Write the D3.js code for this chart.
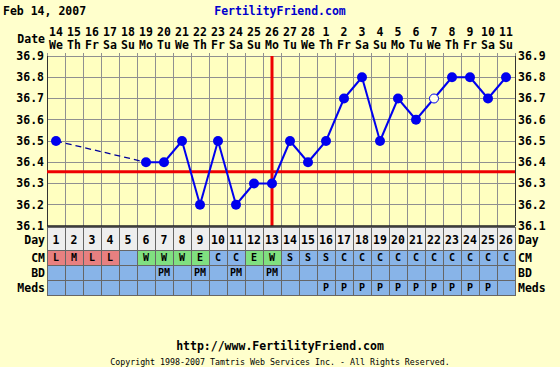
<!DOCTYPE html>
<html><head><meta charset="utf-8">
<script src="https://cdn.jsdelivr.net/npm/d3@7"></script>
<style>
html,body{margin:0;padding:0;background:#ffffcc;}
svg{display:block;}
text{font-family:"DejaVu Sans Mono",monospace;font-weight:bold;}
</style></head>
<body>
<script>
const cycleDays = d3.range(1, 27);
const dateNums = ["14","15","16","17","18","19","20","21","22","23","24","25","26","27","28","1","2","3","4","5","6","7","8","9","10","11"];
const weekdays = ["We","Th","Fr","Sa","Su","Mo","Tu","We","Th","Fr","Sa","Su","Mo","Tu","We","Th","Fr","Sa","Su","Mo","Tu","We","Th","Fr","Sa","Su"];
const temps = [36.5,null,null,null,null,36.4,36.4,36.5,36.2,36.5,36.2,36.3,36.3,36.5,36.4,36.5,36.7,36.8,36.5,36.7,36.6,36.7,36.8,36.8,36.7,36.8];
const openPoints = [22];
const cm = ["L","M","L","L","","W","W","W","E","C","C","E","W","S","S","S","C","C","C","C","C","C","C","C","C","C"];
const bd = ["","","","","","","PM","","PM","","PM","","PM","","","","","","","","","","","","",""];
const meds = ["","","","","","","","","","","","","","","","P","P","P","P","P","P","P","P","P","P",""];
const tempTicks = [36.1,36.2,36.3,36.4,36.5,36.6,36.7,36.8,36.9];
const coverline = 36.355;
const ovulationDay = 13;

const W = 560, H = 367;
const pL = 47, pR = 515, pT = 56, pB = 226;
const svg = d3.select("body").append("svg").attr("width", W).attr("height", H);

const x = d3.scaleBand().domain(cycleDays).range([pL, pR]).padding(0);
const y = d3.scaleLinear().domain([36.1, 36.9]).range([pB, pT]);
const cx = d => x(d) + x.bandwidth() / 2;

// header
svg.append("text").attr("x", 3).attr("y", 15).attr("font-size", 11.5).attr("fill", "#000").text("Feb 14, 2007");
svg.append("text").attr("x", 280).attr("y", 15).attr("font-size", 11.5).attr("fill", "#0000cc").attr("text-anchor", "middle").text("FertilityFriend.com");
svg.append("text").attr("x", 45).attr("y", 43).attr("font-size", 11.5).attr("text-anchor", "end").text("Date");
svg.selectAll(".dn").data(cycleDays).enter().append("text")
  .attr("x", d => cx(d)).attr("y", 36).attr("font-size", 11.5).attr("text-anchor", "middle").text((d, i) => dateNums[i]);
svg.selectAll(".wd").data(cycleDays).enter().append("text")
  .attr("x", d => cx(d)).attr("y", 48.5).attr("font-size", 11.5).attr("text-anchor", "middle").text((d, i) => weekdays[i]);

// plot grid
const g = svg.append("g");
g.append("rect").attr("x", pL).attr("y", pT).attr("width", pR - pL).attr("height", pB - pT).attr("fill", "#ffffc0");
g.selectAll(".vg").data(d3.range(0, 27)).enter().append("line")
  .attr("x1", i => pL + i * x.bandwidth()).attr("x2", i => pL + i * x.bandwidth())
  .attr("y1", pT - 3).attr("y2", pB).attr("stroke", "#909090").attr("stroke-width", 1).attr("shape-rendering", "crispEdges");
g.selectAll(".hg").data(tempTicks).enter().append("line")
  .attr("x1", pL).attr("x2", pR).attr("y1", d => y(d)).attr("y2", d => y(d))
  .attr("stroke", "#909090").attr("stroke-width", 1).attr("shape-rendering", "crispEdges");
g.append("line").attr("x1", pL).attr("x2", pL).attr("y1", pT).attr("y2", pB).attr("stroke", "#333").attr("shape-rendering", "crispEdges");
g.append("line").attr("x1", pR).attr("x2", pR).attr("y1", pT).attr("y2", pB).attr("stroke", "#333").attr("shape-rendering", "crispEdges");

// axes labels
const axL = d3.axisLeft(y).tickValues(tempTicks).tickFormat(d3.format(".1f")).tickSize(0).tickPadding(3);
const axR = d3.axisRight(y).tickValues(tempTicks).tickFormat(d3.format(".1f")).tickSize(0).tickPadding(3);
const gl = svg.append("g").attr("transform", `translate(${pL},0)`).call(axL);
const gr = svg.append("g").attr("transform", `translate(${pR},0)`).call(axR);
[gl, gr].forEach(a => { a.select(".domain").remove(); a.selectAll("text").attr("font-size", 11.5).attr("font-family", "DejaVu Sans Mono").attr("font-weight", "bold").attr("fill", "#000").attr("dy", "0.3em"); });

// coverline and ovulation
svg.append("line").attr("x1", pL).attr("x2", pR).attr("y1", y(coverline)).attr("y2", y(coverline)).attr("stroke", "#ee0000").attr("stroke-width", 3);
svg.append("line").attr("x1", cx(ovulationDay)).attr("x2", cx(ovulationDay)).attr("y1", pT).attr("y2", pB).attr("stroke", "#ee0000").attr("stroke-width", 3);

// temperature line
const pts = cycleDays.map((d, i) => ({d, t: temps[i]})).filter(p => p.t !== null);
const line = d3.line().x(p => cx(p.d)).y(p => y(p.t));
for (let i = 1; i < pts.length; i++) {
  const a = pts[i - 1], b = pts[i];
  const gap = b.d - a.d > 1;
  svg.append("path").attr("d", line([a, b])).attr("fill", "none").attr("stroke", gap ? "#00009a" : "#0000ee")
    .attr("stroke-width", gap ? 1.3 : 2).attr("stroke-dasharray", gap ? "6,4" : null);
}
svg.selectAll(".pt").data(pts).enter().append("circle")
  .attr("cx", p => cx(p.d)).attr("cy", p => y(p.t)).attr("r", p => openPoints.includes(p.d) ? 4.5 : 5)
  .attr("fill", p => openPoints.includes(p.d) ? "#ffffe8" : "#0000ee")
  .attr("stroke", "#0000ee").attr("stroke-width", p => openPoints.includes(p.d) ? 1 : 0);

// table rows
const rows = [
  {name: "Day", y0: 227, y1: 250, vals: cycleDays.map(String)},
  {name: "CM", y0: 250, y1: 265, vals: cm},
  {name: "BD", y0: 265, y1: 280, vals: bd},
  {name: "Meds", y0: 280, y1: 295, vals: meds}
];
const cmColor = v => (v === "L" || v === "M" || v === "H") ? "#e88080" : (v === "W" || v === "E") ? "#80e080" : "#88b4e8";
rows.forEach((r, ri) => {
  const rg = svg.append("g");
  rg.selectAll("rect").data(cycleDays).enter().append("rect")
    .attr("x", d => x(d)).attr("y", r.y0).attr("width", x.bandwidth()).attr("height", r.y1 - r.y0)
    .attr("fill", (d, i) => ri === 0 ? "#eeeeee" : ri === 1 ? cmColor(r.vals[i]) : "#88b4e8")
    .attr("stroke", "#666").attr("stroke-width", 1).attr("shape-rendering", "crispEdges");
  const mid = ri === 0 ? 240 : (r.y0 + r.y1) / 2;
  rg.selectAll("text").data(cycleDays).enter().append("text")
    .attr("x", d => cx(d)).attr("y", mid).attr("dy", "0.36em")
    .attr("text-anchor", "middle").attr("font-size", ri === 0 ? 11.5 : 10).attr("fill", "#000")
    .text((d, i) => r.vals[i]);
  svg.append("text").attr("x", pL - 2).attr("y", mid).attr("dy", "0.36em").attr("text-anchor", "end").attr("font-size", 11.5).text(r.name);
  svg.append("text").attr("x", pR + 3).attr("y", mid).attr("dy", "0.36em").attr("text-anchor", "start").attr("font-size", 11.5).text(r.name);
});
svg.append("line").attr("x1", pL).attr("x2", pR).attr("y1", 226).attr("y2", 226).attr("stroke", "#222").attr("stroke-width", 1.5);

// footer
svg.append("text").attr("x", 280).attr("y", 350).attr("font-size", 11.5).attr("text-anchor", "middle").text("http://www.FertilityFriend.com");
svg.append("text").attr("x", 280).attr("y", 364.5).attr("font-size", 8.3).style("font-weight", "normal").attr("text-anchor", "middle").text("Copyright 1998-2007 Tamtris Web Services Inc. - All Rights Reserved.");
</script>
</body></html>
